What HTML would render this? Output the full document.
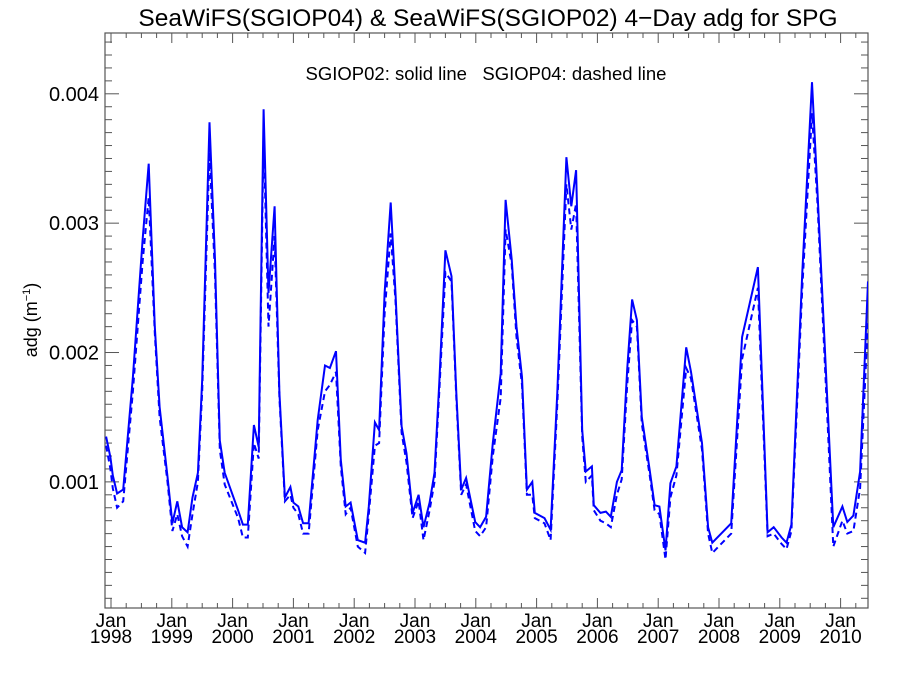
<!DOCTYPE html>
<html><head><meta charset="utf-8"><style>
body{margin:0;background:#fff}
svg{display:block;font-family:"Liberation Sans",Arial,sans-serif}
</style></head><body>
<svg id="chart" width="900" height="675" viewBox="0 0 900 675">
<rect width="900" height="675" fill="#fff"/>
<text x="488" y="26" font-size="24.5" text-anchor="middle">SeaWiFS(SGIOP04) &amp; SeaWiFS(SGIOP02) 4−Day adg for SPG</text>
<text x="486" y="80" font-size="18.5" text-anchor="middle" style="white-space:pre" xml:space="preserve">SGIOP02: solid line   SGIOP04: dashed line</text>
<text transform="translate(37,320) rotate(-90)" font-size="18" text-anchor="middle">adg (m<tspan font-size="11" dy="-7">−1</tspan><tspan dy="7">)</tspan></text>
<g id="axes"></g>
<g id="series"></g>
</svg>
<script>
const times=[1997.92,1997.99,1998.03,1998.10,1998.20,1998.36,1998.52,1998.62,1998.72,1998.80,1998.93,1999.01,1999.09,1999.17,1999.26,1999.34,1999.43,1999.50,1999.62,1999.71,1999.79,1999.87,2000.09,2000.17,2000.25,2000.35,2000.43,2000.51,2000.59,2000.69,2000.77,2000.86,2000.95,2001.00,2001.08,2001.16,2001.25,2001.40,2001.52,2001.60,2001.70,2001.78,2001.86,2001.94,2002.06,2002.18,2002.24,2002.34,2002.41,2002.50,2002.60,2002.68,2002.78,2002.86,2002.96,2003.06,2003.14,2003.24,2003.32,2003.40,2003.50,2003.60,2003.68,2003.76,2003.84,2003.99,2004.07,2004.17,2004.28,2004.41,2004.49,2004.59,2004.67,2004.76,2004.84,2004.93,2004.97,2005.13,2005.23,2005.34,2005.49,2005.57,2005.65,2005.75,2005.81,2005.91,2005.94,2006.05,2006.14,2006.22,2006.32,2006.40,2006.49,2006.57,2006.65,2006.73,2006.86,2006.94,2007.02,2007.12,2007.20,2007.30,2007.46,2007.54,2007.72,2007.82,2007.89,2008.20,2008.38,2008.64,2008.80,2008.90,2009.03,2009.11,2009.19,2009.37,2009.53,2009.62,2009.88,2010.03,2010.11,2010.21,2010.32,2010.45];
const sgiop02=[.00135,.00119,.00105,.00091,.00094,.00181,.00287,.00346,.00220,.00158,.00104,.00068,.00085,.00065,.00061,.00088,.00107,.00179,.00378,.00272,.00132,.00107,.00078,.00067,.00067,.00144,.00127,.00388,.00246,.00313,.00169,.00088,.00096,.00084,.00081,.00068,.00068,.00148,.00190,.00188,.00201,.00117,.00081,.00084,.00055,.00053,.00081,.00146,.00140,.00246,.00316,.00246,.00143,.00122,.00076,.00090,.00065,.00084,.00107,.00177,.00279,.00259,.00169,.00094,.00103,.00069,.00065,.00073,.00130,.00184,.00318,.00272,.00220,.00181,.00094,.00100,.00076,.00072,.00063,.00169,.00351,.00313,.00341,.00140,.00108,.00112,.00082,.00076,.00077,.00073,.00100,.00109,.00187,.00241,.00225,.00150,.00109,.00082,.00081,.00047,.00099,.00112,.00204,.00185,.00130,.00065,.00053,.00068,.00212,.00266,.00061,.00065,.00057,.00053,.00067,.00262,.00409,.00324,.00065,.00081,.00069,.00074,.00108,.00255];
const sgiop04=[.00128,.00110,.00095,.00080,.00085,.00170,.00270,.00320,.00215,.00150,.00100,.00062,.00075,.00058,.00050,.00075,.00100,.00170,.00355,.00260,.00125,.00098,.00072,.00057,.00057,.00130,.00118,.00370,.00220,.00290,.00165,.00085,.00090,.00080,.00075,.00060,.00060,.00140,.00170,.00175,.00185,.00112,.00075,.00080,.00050,.00045,.00075,.00128,.00130,.00230,.00292,.00240,.00138,.00115,.00072,.00085,.00055,.00078,.00100,.00170,.00262,.00255,.00165,.00090,.00098,.00062,.00058,.00065,.00120,.00165,.00295,.00268,.00212,.00175,.00090,.00090,.00072,.00068,.00055,.00160,.00330,.00295,.00315,.00135,.00100,.00105,.00078,.00070,.00068,.00065,.00090,.00102,.00175,.00225,.00220,.00145,.00105,.00078,.00075,.00040,.00088,.00105,.00188,.00180,.00125,.00060,.00045,.00060,.00195,.00250,.00058,.00060,.00052,.00048,.00062,.00250,.00385,.00315,.00050,.00070,.00060,.00062,.00095,.00225];
const yTicks=[0.001,0.002,0.003,0.004];
const yTickLabels=["0.001","0.002","0.003","0.004"];
const xYears=[1998,1999,2000,2001,2002,2003,2004,2005,2006,2007,2008,2009,2010];

const L=105,R=868,T=33,B=608;
const X0=1998,XPX=111,YEARPX=60.8;
const YMIN=0.000025,YMAX=0.00447;
function x(t){return XPX+(t-X0)*YEARPX;}
function y(v){return B-(v-YMIN)/(YMAX-YMIN)*(B-T);}
const NS="http://www.w3.org/2000/svg";
function mk(tag,attrs,parent){const e=document.createElementNS(NS,tag);for(const k in attrs)e.setAttribute(k,attrs[k]);parent.appendChild(e);return e;}
const axes=document.getElementById('axes'),series=document.getElementById('series');
const frame=mk('rect',{x:L,y:T,width:R-L,height:B-T,fill:'none',stroke:'#555','stroke-width':1.2},axes);


for(let v=0.0001;v<YMAX;v+=0.0001){
  const yy=y(v);if(yy<T||yy>B)continue;
  const major=Math.abs(v*1000-Math.round(v*1000))<1e-6;
  const len=major?14:7;
  const t1=mk('line',{x1:L,x2:L+len,y1:yy,y2:yy,stroke:'#555','stroke-width':1},axes);
  
  
  const t2=mk('line',{x1:R,x2:R-len,y1:yy,y2:yy,stroke:'#555','stroke-width':1},axes);
  
  
}
yTicks.forEach((v,i)=>{
  const tx=mk('text',{x:L-6,y:y(v)+7,'font-size':20,'text-anchor':'end'},axes);
  tx.textContent=yTickLabels[i];
  
  
});
for(let q=0;q<=12*4+2;q++){
  const t=X0+q*0.25;const xx=x(t);if(xx<L||xx>R)continue;
  const major=q%4===0;const len=major?10:5;
  const a=mk('line',{x1:xx,x2:xx,y1:B,y2:B-len,stroke:'#555','stroke-width':1},axes);
  
  
  const b=mk('line',{x1:xx,x2:xx,y1:T,y2:T+len,stroke:'#555','stroke-width':1},axes);
  
  
}
xYears.forEach(yr=>{
  const tx=mk('text',{x:x(yr),y:627,'font-size':19,'text-anchor':'middle'},axes);
  tx.textContent='Jan';
  
  
  const ty=mk('text',{x:x(yr),y:643,'font-size':19,'text-anchor':'middle'},axes);
  ty.textContent=String(yr);
  
  
});
const cp=mk('clipPath',{id:'clip'},series);
mk('rect',{x:L,y:T,width:R-L,height:B-T},cp);
function pts(vals){return times.map((t,i)=>x(t).toFixed(1)+','+y(vals[i]).toFixed(1)).join(' ');}
const d=mk('polyline',{points:pts(sgiop04),fill:'none',stroke:'#0000ff','stroke-width':2,'stroke-dasharray':'6,4','clip-path':'url(#clip)'},series);


const s=mk('polyline',{points:pts(sgiop02),fill:'none',stroke:'#0000ff','stroke-width':2,'clip-path':'url(#clip)'},series);


</script>
</body></html>
